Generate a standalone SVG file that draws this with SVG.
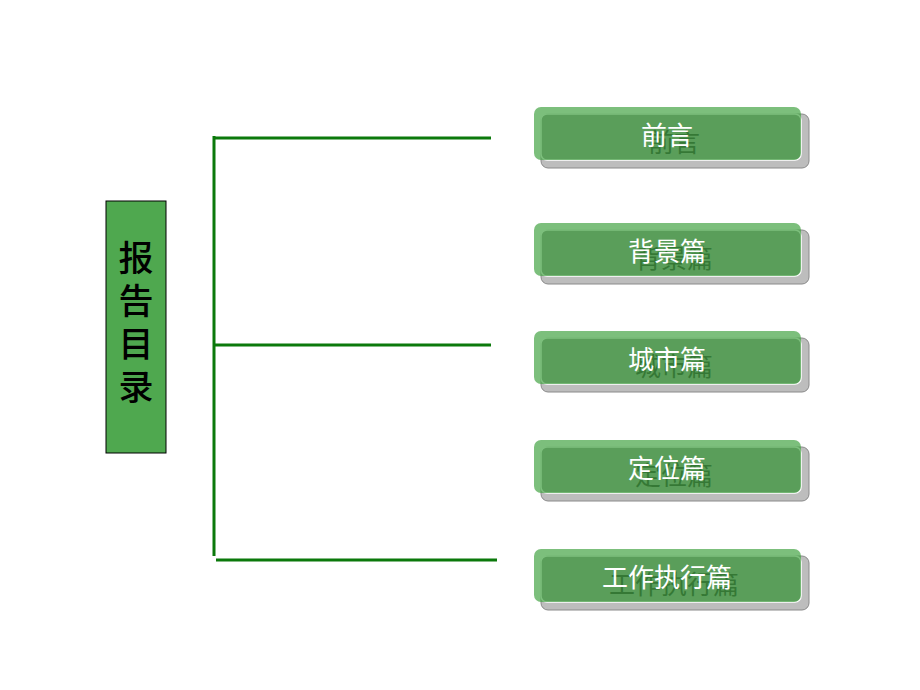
<svg xmlns="http://www.w3.org/2000/svg" width="920" height="690" viewBox="0 0 920 690">
<style>
.shadow{fill:#bdbdbd;stroke:#8a8a8a;stroke-width:1}
.under{fill:#8d918d;stroke:#ffffff;stroke-width:1.5}
.over{fill:#44a444;fill-opacity:0.7}
.ghost{fill:#111111;font-family:"Noto Sans CJK SC","Noto Sans CJK JP",sans-serif;font-size:26px;text-anchor:middle}
.label{fill:#ffffff;font-family:"Noto Sans CJK SC","Noto Sans CJK JP",sans-serif;font-size:26px;text-anchor:middle}
.conn{stroke:#0b790b;stroke-width:3;fill:none}
.title{fill:#000000;font-family:"Noto Sans CJK SC","Noto Sans CJK JP",sans-serif;font-size:35px;font-weight:500;text-anchor:middle}
</style>
<rect width="920" height="690" fill="#ffffff"/>
<g id="connectors">
<line class="conn" x1="214" y1="136" x2="214" y2="556"/>
<line class="conn" x1="214" y1="138" x2="491" y2="138"/>
<line class="conn" x1="214" y1="345" x2="491" y2="345"/>
<line class="conn" x1="216" y1="560" x2="497" y2="560"/>
</g>
<g id="root">
<rect x="106" y="201" width="60" height="252" fill="#4fa84f" stroke="#000000" stroke-width="1"/>
<text class="title" x="136" y="271">报</text>
<text class="title" x="136" y="314">告</text>
<text class="title" x="136" y="357">目</text>
<text class="title" x="136" y="400">录</text>
</g>
<g id="n1">
<rect class="shadow" x="541" y="114" width="268" height="54" rx="7"/>
<rect class="under" x="541" y="114" width="260" height="46" rx="6"/>
<text class="ghost" x="674" y="152">前言</text>
<rect class="over" x="534" y="107" width="267" height="53" rx="7"/>
<text class="label" x="667" y="145">前言</text>
</g>
<g id="n2">
<rect class="shadow" x="541" y="230" width="268" height="54" rx="7"/>
<rect class="under" x="541" y="230" width="260" height="46" rx="6"/>
<text class="ghost" x="674" y="268">背景篇</text>
<rect class="over" x="534" y="223" width="267" height="53" rx="7"/>
<text class="label" x="667" y="261">背景篇</text>
</g>
<g id="n3">
<rect class="shadow" x="541" y="338" width="268" height="54" rx="7"/>
<rect class="under" x="541" y="338" width="260" height="46" rx="6"/>
<text class="ghost" x="674" y="376">城市篇</text>
<rect class="over" x="534" y="331" width="267" height="53" rx="7"/>
<text class="label" x="667" y="369">城市篇</text>
</g>
<g id="n4">
<rect class="shadow" x="541" y="447" width="268" height="54" rx="7"/>
<rect class="under" x="541" y="447" width="260" height="46" rx="6"/>
<text class="ghost" x="674" y="485">定位篇</text>
<rect class="over" x="534" y="440" width="267" height="53" rx="7"/>
<text class="label" x="667" y="478">定位篇</text>
</g>
<g id="n5">
<rect class="shadow" x="541" y="556" width="268" height="54" rx="7"/>
<rect class="under" x="541" y="556" width="260" height="46" rx="6"/>
<text class="ghost" x="674" y="594">工作执行篇</text>
<rect class="over" x="534" y="549" width="267" height="53" rx="7"/>
<text class="label" x="667" y="587">工作执行篇</text>
</g>
</svg>
